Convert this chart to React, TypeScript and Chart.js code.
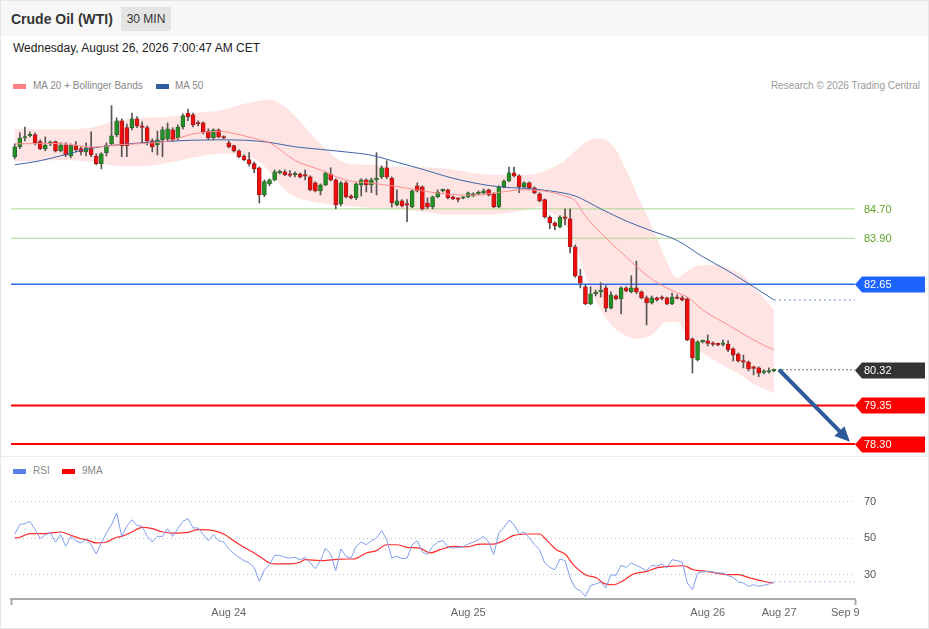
import React, { useEffect, useRef } from "react";
import { Chart, registerables } from "chart.js";
Chart.register(...registerables);

// ---------- data ----------
const openP = [86.12,86.39,86.63,86.69,86.72,86.53,86.34,86.47,86.53,86.28,86.44,86.14,86.42,86.34,86.25,86.39,86.14,85.93,86.23,86.47,86.72,87.10,86.91,86.91,87.15,86.95,86.91,86.55,86.44,86.58,86.61,86.85,86.63,86.93,87.31,87.26,87.04,87.04,86.82,86.63,86.85,86.66,86.50,86.42,86.28,86.14,86.04,85.93,85.82,85.08,85.38,85.49,85.68,85.71,85.64,85.63,85.65,85.60,85.57,85.41,85.19,85.35,85.65,85.49,84.84,85.41,85.05,85.00,85.35,85.49,85.35,85.49,85.57,85.82,85.54,84.81,84.92,84.82,84.75,85.33,85.30,84.86,84.75,85.03,85.19,85.22,85.03,84.97,84.99,85.03,85.05,85.11,85.14,85.22,85.11,84.75,85.30,85.46,85.68,85.60,85.30,85.41,85.27,85.11,84.95,84.48,84.32,84.21,84.45,84.43,83.67,82.87,82.58,82.11,82.39,82.44,82.55,82.00,82.33,82.25,82.55,82.44,82.55,82.44,82.28,82.14,82.28,82.28,82.28,82.11,82.30,82.28,82.25,81.16,80.59,81.08,81.11,81.02,81.01,81.01,81.02,80.89,80.75,80.55,80.53,80.37,80.37,80.25,80.26,80.29];
const highP = [86.47,86.77,86.93,86.80,86.77,86.58,86.66,86.55,86.55,86.50,86.50,86.47,86.53,86.39,86.50,86.80,86.20,86.23,86.50,87.51,87.18,87.15,87.01,87.31,87.21,87.07,86.96,86.61,86.82,86.93,87.04,86.91,86.99,87.29,87.42,87.31,87.10,87.07,86.88,86.88,86.88,86.69,86.55,86.44,86.31,86.17,86.23,85.98,85.84,85.49,85.52,85.76,85.76,85.76,85.74,85.71,85.68,85.76,85.60,85.44,85.38,85.71,85.82,85.52,85.44,85.44,85.08,85.41,85.52,85.52,85.54,86.23,85.87,86.01,85.57,85.22,84.95,84.95,85.22,85.41,85.33,85.00,85.05,85.22,85.24,85.24,85.05,85.00,85.03,85.16,85.14,85.19,85.24,85.24,85.14,85.33,85.49,85.84,85.84,85.63,85.44,85.44,85.30,85.14,84.97,84.51,84.35,84.51,84.70,84.70,83.72,83.06,82.63,82.58,82.49,82.69,82.61,82.44,82.36,82.58,82.58,82.88,83.28,82.47,82.33,82.33,82.30,82.33,82.30,82.41,82.36,82.33,82.28,81.19,81.11,81.13,81.27,81.08,81.05,81.13,81.11,80.92,80.78,80.72,80.56,80.42,80.40,80.32,80.37,80.34];
const lowP = [86.06,86.34,86.55,86.66,86.44,86.31,86.28,86.42,86.25,86.25,86.12,86.09,86.25,86.17,86.14,86.12,85.90,85.79,86.14,86.42,86.66,86.12,86.12,86.85,86.91,86.50,86.44,86.25,86.17,86.12,86.55,86.53,86.58,86.88,87.10,86.93,86.96,86.74,86.58,86.58,86.63,86.61,86.36,86.25,86.09,86.01,85.87,85.68,84.86,85.03,85.33,85.46,85.65,85.60,85.57,85.57,85.54,85.49,85.19,85.16,85.08,85.33,85.46,84.70,84.78,85.00,84.97,84.95,85.05,85.16,85.14,85.08,85.52,85.52,84.75,84.78,84.75,84.35,84.73,85.16,84.67,84.70,84.70,85.00,85.16,84.97,84.95,84.89,84.97,85.00,85.03,85.08,85.11,85.05,84.73,84.73,85.27,85.44,85.57,85.14,85.27,85.24,85.11,84.89,84.45,84.16,84.13,84.18,84.26,83.50,82.84,82.55,82.09,82.09,82.33,82.30,81.90,81.98,82.22,81.84,82.44,82.41,82.39,82.25,81.54,82.11,82.19,82.22,82.09,82.09,82.25,82.19,81.11,80.23,80.56,81.05,80.97,80.97,80.97,80.97,80.81,80.56,80.53,80.37,80.29,80.18,80.13,80.21,80.23,80.26];
const closeP = [86.39,86.63,86.66,86.72,86.50,86.34,86.44,86.49,86.28,86.44,86.17,86.42,86.31,86.25,86.36,86.17,85.93,86.20,86.44,86.69,87.10,86.42,86.42,87.15,86.96,86.92,86.55,86.39,86.58,86.85,86.88,86.58,86.93,87.23,87.21,86.99,87.01,86.80,86.63,86.85,86.66,86.63,86.39,86.28,86.12,86.04,85.93,85.79,85.08,85.44,85.49,85.71,85.71,85.63,85.61,85.64,85.57,85.59,85.22,85.19,85.35,85.68,85.49,84.81,85.41,85.03,85.00,85.38,85.49,85.35,85.49,85.53,85.82,85.57,84.86,84.92,84.78,84.80,85.19,85.19,84.70,84.75,85.03,85.16,85.20,85.00,84.97,84.96,85.00,85.14,85.11,85.14,85.19,85.08,84.75,85.30,85.46,85.68,85.60,85.30,85.41,85.27,85.14,84.92,84.48,84.32,84.24,84.48,84.44,83.67,82.87,82.68,82.11,82.39,82.43,82.49,82.00,82.36,82.25,82.55,82.47,82.55,82.44,82.28,82.14,82.28,82.22,82.26,82.11,82.30,82.26,82.22,81.13,80.64,81.08,81.09,81.04,81.01,81.00,81.02,80.86,80.72,80.56,80.53,80.34,80.36,80.23,80.26,80.29,80.32];

const bandX = [0,5,10,15,20,25,30,35,40,45,48,50,53,55,60,65,70,75,80,85,90,95,100,103,105,108,110,112,114,116,118,120,122,125,128,130,132,134,137,140,143,145,147,149];
const bandUpper = [86.87,86.87,86.87,86.91,87.10,87.18,87.21,87.31,87.37,87.56,87.64,87.67,87.48,87.23,86.47,85.95,85.90,85.84,85.83,85.79,85.68,85.63,85.63,85.68,85.79,86.03,86.28,86.50,86.62,86.58,86.31,85.76,85.14,84.24,83.26,82.82,83.01,83.15,83.18,83.09,82.88,82.58,82.28,81.95];
const bandLower = [85.98,86.01,86.03,85.98,85.87,85.86,85.95,86.09,86.20,86.14,85.98,85.71,85.22,85.03,84.86,84.78,84.73,84.70,84.62,84.54,84.54,84.56,84.67,84.75,84.62,84.26,83.72,82.90,82.22,81.73,81.41,81.24,81.16,81.27,81.62,81.62,81.20,80.90,80.59,80.37,80.13,79.93,79.80,79.69];

const ma20X = [0,5,10,15,20,25,30,35,40,45,48,50,55,60,65,70,75,80,85,90,95,100,105,108,110,112,115,120,125,130,132,135,140,145,149];
const ma20 = [86.47,86.48,86.47,86.38,86.44,86.48,86.54,86.74,86.81,86.69,86.58,86.50,86.02,85.76,85.48,85.40,85.31,85.19,85.10,85.07,85.15,85.22,85.16,85.05,84.92,84.50,84.05,83.39,82.79,82.41,82.30,81.95,81.54,81.13,80.86];

const ma50X = [0,5,10,15,20,25,30,35,40,45,50,55,60,65,70,75,80,85,90,95,100,105,110,115,120,125,130,135,140,145,149];
const ma50 = [85.90,86.01,86.18,86.35,86.44,86.50,86.54,86.57,86.58,86.57,86.51,86.39,86.32,86.25,86.16,85.97,85.78,85.57,85.41,85.30,85.26,85.19,85.05,84.70,84.37,84.10,83.84,83.40,83.01,82.58,82.22];

const rsi = [52.2,57.3,57.9,59.1,54.6,49.6,51.8,52.7,47.8,51.8,45.4,50.9,48.5,47.3,49.1,46.3,41.2,47.3,52.7,57.3,63.7,50.9,56.4,60.0,56.9,56.4,50.9,47.8,50.9,50.9,55.1,50.9,55.1,59.1,60.6,55.5,55.5,51.8,48.5,51.8,48.5,47.8,44.2,41.4,39.4,37.6,36.3,33.9,26.3,32.6,35.4,40.5,40.5,39.4,39.0,39.4,38.1,39.4,36.3,33.2,37.6,44.5,41.2,32.1,44.0,40.0,39.0,45.4,47.8,46.3,48.5,50.0,54.0,49.1,39.0,40.0,38.7,39.0,46.3,48.5,42.3,40.9,45.4,47.8,48.6,45.1,44.5,44.9,45.1,46.7,47.8,49.1,50.9,47.8,40.9,52.7,55.8,59.7,57.3,52.2,53.3,50.0,46.3,43.6,36.3,33.9,32.6,38.5,37.6,28.1,22.6,21.1,18.0,23.9,24.8,25.9,22.6,29.9,29.5,35.0,33.9,36.3,35.0,33.6,32.1,35.0,34.5,35.8,33.6,38.1,37.6,36.8,25.3,21.7,30.8,31.4,31.7,31.4,30.8,30.8,29.4,28.4,25.9,25.3,23.5,24.4,23.5,24.1,24.8,26.0];

const rsiMaX = [0,1,3,5,7,9,11,13,14,16,18,20,21,23,25,27,29,31,34,36,39,41,43,45,47,49,50,52,54,56,57,60,62.5,65,66.5,69,71,73,75,77,79.5,81.5,83.5,86,88.7,91.3,94,95.9,97.8,100.5,103,104.3,106.3,108,109.6,112,114.2,115.5,117.5,119.4,121.4,124,126,128.6,131.2,133.2,135.8,137.7,139.7,142,144.3,146.9,148.9];
const rsiMa = [50.0,50.4,52.4,52.4,52.7,53.3,51.5,49.6,49.1,47.3,47.8,50.4,50.9,53.3,55.8,55.1,53.3,52.7,53.1,54.6,54.0,52.2,48.5,44.9,41.8,38.1,36.3,35.8,35.8,36.7,38.1,37.6,38.1,38.5,38.5,41.8,43.1,46.3,46.3,44.9,44.5,41.8,43.6,45.4,45.1,46.7,46.7,48.5,51.3,52.2,52.2,49.1,43.6,41.2,35.4,29.9,28.1,25.3,24.4,26.6,30.3,31.7,33.6,34.5,34.8,32.6,31.7,30.8,29.9,29.9,28.1,26.3,25.3];

const levelValues = [84.70, 83.90, 82.65, 79.35, 78.30];
const rsiLevels = [70, 50, 30];
const tickPositions = [42, 89, 136, 150, 163];
const tickLabels = ["Aug 24", "Aug 25", "Aug 26", "Aug 27", "Sep 9"];
const arrowFrom = [150, 80.32];
const arrowTo = [163.9, 78.36];

// ---------- styling ----------
const FONT = 'Arial, "Liberation Sans", sans-serif';
const X_MIN = -0.73;
const X_MAX = 164.9;
const levelStyle = [
  { line: "#a8d88c", width: 1, text: "#5ea52c", tag: null },
  { line: "#a8d88c", width: 1, text: "#5ea52c", tag: null },
  { line: "#2a6af5", width: 1.5, text: "#ffffff", tag: "#1d63ff" },
  { line: "#ff0000", width: 2, text: "#ffffff", tag: "#ff0000" },
  { line: "#ff0000", width: 2, text: "#ffffff", tag: "#ff0000" },
];

export default function App() {
  const mainRef = useRef<HTMLCanvasElement>(null);
  const rsiRef = useRef<HTMLCanvasElement>(null);

  useEffect(() => {
    Chart.defaults.font.family = FONT;
    const last = closeP.length - 1;
    const lastClose = closeP[last];
    const pts = (xs: number[], ys: number[]) => xs.map((x, k) => ({ x, y: ys[k] }));
    const up = closeP.map((c, i) => c >= openP[i]);
    const bodies = closeP.map((c, i) => ({ x: i, y: [openP[i], c] }));
    const wicks = closeP.map((_, i) => ({ x: i, y: [lowP[i], highP[i]] }));

    const levelSets: any[] = levelValues.map((v, k) => ({
      type: "line",
      data: [{ x: X_MIN, y: v }, { x: X_MAX, y: v }],
      borderColor: levelStyle[k].line,
      borderWidth: levelStyle[k].width,
      pointRadius: 0,
      fill: false,
      order: 6,
    }));

    const overlay = {
      id: "overlay",
      afterDatasetsDraw(chart: any) {
        const { ctx, scales } = chart;
        const xs = scales.x, ys = scales.y;
        const x1 = xs.getPixelForValue(arrowFrom[0]);
        const y1 = ys.getPixelForValue(arrowFrom[1]);
        const x2 = xs.getPixelForValue(arrowTo[0]);
        const y2 = ys.getPixelForValue(arrowTo[1]);
        const ang = Math.atan2(y2 - y1, x2 - x1);
        const head = 15;
        ctx.save();
        ctx.strokeStyle = "#2e5c9b";
        ctx.fillStyle = "#2e5c9b";
        ctx.lineWidth = 4;
        ctx.beginPath();
        ctx.moveTo(x1, y1);
        ctx.lineTo(x2 - Math.cos(ang) * head * 0.8, y2 - Math.sin(ang) * head * 0.8);
        ctx.stroke();
        ctx.beginPath();
        ctx.moveTo(x2, y2);
        ctx.lineTo(x2 - head * Math.cos(ang) + 7 * Math.sin(ang), y2 - head * Math.sin(ang) - 7 * Math.cos(ang));
        ctx.lineTo(x2 - head * Math.cos(ang) - 7 * Math.sin(ang), y2 - head * Math.sin(ang) + 7 * Math.cos(ang));
        ctx.closePath();
        ctx.fill();
        ctx.restore();
      },
      afterDraw(chart: any) {
        const { ctx, scales, chartArea } = chart;
        const ys = scales.y;
        const x0 = chartArea.right;
        const tags = levelValues.map((v, k) => ({ v, s: levelStyle[k] }));
        tags.splice(3, 0, { v: lastClose, s: { line: "#777", width: 1, text: "#ffffff", tag: "#333333" } });
        ctx.save();
        ctx.font = `11px ${FONT}`;
        ctx.textBaseline = "middle";
        ctx.textAlign = "left";
        tags.forEach(({ v, s }) => {
          const y = Math.round(ys.getPixelForValue(v)) + 0.5;
          if (s.tag) {
            ctx.fillStyle = s.tag;
            ctx.beginPath();
            ctx.moveTo(x0, y);
            ctx.lineTo(x0 + 7, y - 8);
            ctx.lineTo(x0 + 70, y - 8);
            ctx.lineTo(x0 + 70, y + 8);
            ctx.lineTo(x0 + 7, y + 8);
            ctx.closePath();
            ctx.fill();
          }
          ctx.fillStyle = s.text;
          ctx.fillText(v.toFixed(2), x0 + 9, y + 0.5);
        });
        ctx.restore();
      },
    };

    const main = new Chart(mainRef.current as HTMLCanvasElement, {
      type: "bar",
      data: {
        datasets: [
          {
            type: "line",
            data: pts(bandX, bandUpper),
            borderColor: "rgba(0,0,0,0)",
            borderWidth: 0,
            pointRadius: 0,
            fill: "+1",
            backgroundColor: "rgba(255,120,120,0.2)",
            cubicInterpolationMode: "monotone",
            order: 20,
          },
          {
            type: "line",
            data: pts(bandX, bandLower),
            borderColor: "rgba(0,0,0,0)",
            borderWidth: 0,
            pointRadius: 0,
            fill: false,
            cubicInterpolationMode: "monotone",
            order: 21,
          },
          ...levelSets,
          {
            type: "line",
            data: [{ x: last, y: lastClose }, { x: X_MAX, y: lastClose }],
            borderColor: "#777",
            borderWidth: 1,
            borderDash: [2, 2],
            pointRadius: 0,
            order: 6,
          },
          {
            type: "line",
            data: [{ x: ma50X[ma50X.length - 1], y: ma50[ma50.length - 1] }, { x: X_MAX, y: ma50[ma50.length - 1] }],
            borderColor: "#6f8fcc",
            borderWidth: 1,
            borderDash: [2, 3],
            pointRadius: 0,
            order: 6,
          },
          {
            type: "bar",
            data: wicks,
            backgroundColor: "#555",
            barThickness: 1,
            grouped: false,
            order: 5,
          },
          {
            type: "bar",
            data: bodies,
            backgroundColor: up.map((u) => (u ? "#239023" : "#f20d0d")),
            borderColor: up.map((u) => (u ? "#2c5e2c" : "#9a1b1b")),
            borderWidth: 0.8,
            borderSkipped: false,
            barThickness: 4,
            minBarLength: 1.5,
            grouped: false,
            order: 4,
          },
          {
            type: "line",
            data: pts(ma20X, ma20),
            borderColor: "#ff8c8c",
            borderWidth: 1,
            pointRadius: 0,
            cubicInterpolationMode: "monotone",
            order: 1,
          },
          {
            type: "line",
            data: pts(ma50X, ma50),
            borderColor: "#3d64a8",
            borderWidth: 1,
            pointRadius: 0,
            cubicInterpolationMode: "monotone",
            order: 1,
          },
        ] as any,
      },
      options: {
        responsive: false,
        animation: false,
        events: [],
        layout: { padding: { left: 11, right: 74, top: 95, bottom: 5 } },
        plugins: {
          legend: { display: false },
          tooltip: { enabled: false },
          filler: { drawTime: "beforeDatasetsDraw" },
        } as any,
        scales: {
          x: { type: "linear", min: X_MIN, max: X_MAX, display: false, offset: false },
          y: { type: "linear", min: 78.0, max: 87.8, display: false },
        },
      },
      plugins: [overlay],
    });

    const rsiChart = new Chart(rsiRef.current as HTMLCanvasElement, {
      type: "line",
      data: {
        datasets: [
          {
            data: rsi.map((v, i) => ({ x: i, y: v })),
            borderColor: "#7f9ef0",
            borderWidth: 1,
            pointRadius: 0,
          },
          {
            data: pts(rsiMaX, rsiMa),
            borderColor: "#ff2a2a",
            borderWidth: 1.2,
            pointRadius: 0,
            cubicInterpolationMode: "monotone",
          },
          {
            data: [{ x: last, y: rsi[last] }, { x: X_MAX, y: rsi[last] }],
            borderColor: "#b3c6f5",
            borderWidth: 1,
            borderDash: [2, 3],
            pointRadius: 0,
          },
        ] as any,
      },
      options: {
        responsive: false,
        animation: false,
        events: [],
        layout: { padding: { left: 11, right: 0, top: 25, bottom: 0 } },
        plugins: { legend: { display: false }, tooltip: { enabled: false } },
        scales: {
          x: {
            type: "linear",
            min: X_MIN,
            max: X_MAX,
            offset: false,
            afterBuildTicks: (s: any) => {
              s.ticks = [X_MIN, ...tickPositions, X_MAX].map((v) => ({ value: v }));
            },
            afterFit: (s: any) => {
              s.height = 30;
            },
            ticks: {
              autoSkip: false,
              maxRotation: 0,
              padding: 1,
              color: "#666",
              font: { size: 11, family: FONT },
              callback: (v: any) => {
                const k = tickPositions.indexOf(v);
                return k >= 0 ? tickLabels[k] : "";
              },
            },
            grid: {
              display: true,
              drawOnChartArea: false,
              drawTicks: true,
              tickLength: 6,
              tickWidth: 2,
              tickColor: (c: any) =>
                c.tick && (c.tick.value === X_MIN || c.tick.value === X_MAX) ? "#aaa" : "rgba(0,0,0,0)",
            },
            border: { display: true, color: "#aaa", width: 2 },
          },
          y: {
            type: "linear",
            position: "right",
            min: 16.58,
            max: 79.04,
            afterBuildTicks: (s: any) => {
              s.ticks = rsiLevels.map((v) => ({ value: v }));
            },
            afterFit: (s: any) => {
              s.width = 74;
            },
            ticks: { padding: 9, color: "#555", font: { size: 11, family: FONT } },
            grid: { color: "#c4c4c4", drawTicks: false, lineWidth: 1 },
            border: { display: false, dash: [1, 3] },
          },
        },
      } as any,
    });

    return () => {
      main.destroy();
      rsiChart.destroy();
    };
  }, []);

  const txt: React.CSSProperties = { position: "absolute", whiteSpace: "nowrap" };
  const sw = (left: number, top: number, color: string): React.CSSProperties => ({
    position: "absolute", left, top, width: 13, height: 5, background: color,
  });

  return (
    <div
      style={{
        position: "absolute", left: 0, top: 0, width: 929, height: 629, background: "#fff",
        fontFamily: FONT, overflow: "hidden", boxShadow: "inset 0 0 0 1px #e6e6e6",
      }}
    >
      <div style={{ position: "absolute", left: 1, top: 1, width: 927, height: 35, background: "#f7f7f7" }} />
      <div style={{ ...txt, left: 11, top: 10, fontSize: 14, lineHeight: "18px", fontWeight: "bold", color: "#333" }}>
        Crude Oil (WTI)
      </div>
      <div
        style={{
          position: "absolute", left: 121, top: 7, width: 50, height: 24, background: "#e4e4e4",
          fontSize: 12, lineHeight: "24px", textAlign: "center", color: "#333",
        }}
      >
        30 MIN
      </div>
      <div style={{ ...txt, left: 13, top: 41, fontSize: 12, lineHeight: "14px", color: "#222" }}>
        Wednesday, August 26, 2026 7:00:47 AM CET
      </div>

      <div style={sw(13, 84, "#ff8080")} />
      <div style={{ ...txt, left: 33, top: 79, fontSize: 10, lineHeight: "14px", color: "#888" }}>
        MA 20 + Bollinger Bands
      </div>
      <div style={sw(156, 84, "#2f5d9e")} />
      <div style={{ ...txt, left: 175, top: 79, fontSize: 10, lineHeight: "14px", color: "#888" }}>MA 50</div>
      <div style={{ ...txt, right: 9, top: 79, fontSize: 10, lineHeight: "14px", color: "#999" }}>
        Research © 2026 Trading Central
      </div>

      <div style={{ position: "absolute", left: 1, top: 456, width: 927, height: 1, background: "#ececec" }} />

      <div style={sw(13, 469, "#5b7fe8")} />
      <div style={{ ...txt, left: 33, top: 464, fontSize: 10, lineHeight: "14px", color: "#888" }}>RSI</div>
      <div style={sw(62, 469, "#ff0000")} />
      <div style={{ ...txt, left: 82, top: 464, fontSize: 10, lineHeight: "14px", color: "#888" }}>9MA</div>

      <canvas ref={mainRef} width={929} height={460} style={{ position: "absolute", left: 0, top: 0 }} />
      <canvas ref={rsiRef} width={929} height={169} style={{ position: "absolute", left: 0, top: 460 }} />
    </div>
  );
}
